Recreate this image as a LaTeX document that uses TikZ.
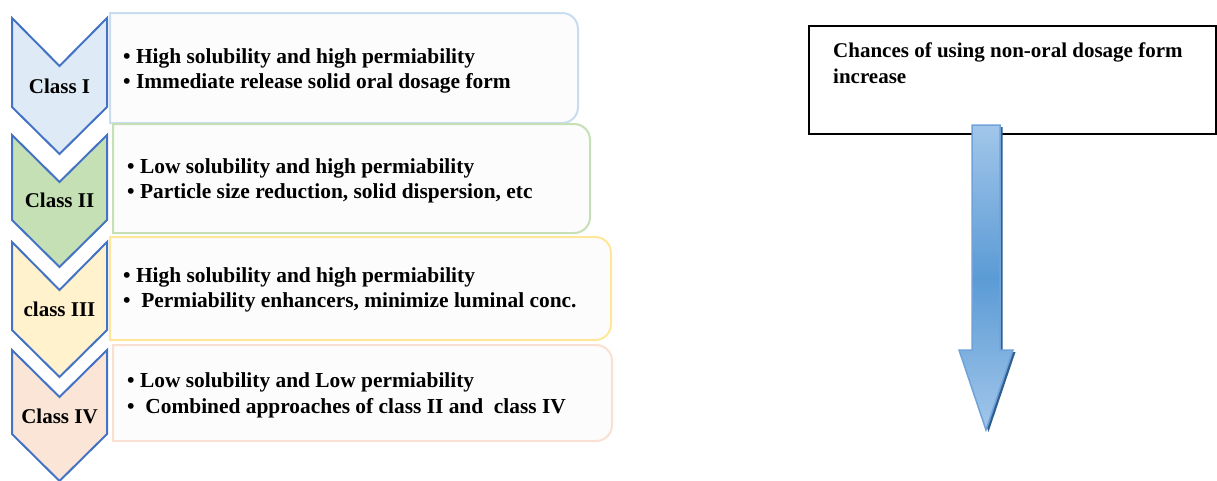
\documentclass[tikz,border=0pt]{standalone}
\usepackage{fontspec}
\setmainfont{Liberation Serif}
\definecolor{chevline}{HTML}{4472C4}
\definecolor{fillI}{HTML}{DEEBF7}
\definecolor{fillII}{HTML}{C5E0B4}
\definecolor{fillIII}{HTML}{FFF2CC}
\definecolor{fillIV}{HTML}{FBE5D6}
\definecolor{edgeI}{HTML}{C9DDF2}
\definecolor{edgeII}{HTML}{C5E0B4}
\definecolor{edgeIII}{HTML}{FFE699}
\definecolor{edgeIV}{HTML}{FAE0D2}
\definecolor{boxfill}{HTML}{FCFCFC}
\definecolor{arrtop}{HTML}{A2C6EA}
\definecolor{arrmid}{HTML}{5B9BD5}
\definecolor{arredge}{HTML}{6FA3DA}
\definecolor{arrshadow}{HTML}{2F5F8F}
\newcommand{\sideroundbox}[5]{%
  \draw[#1] (#2,#3) -- ({#4-16},#3) .. controls ({#4-7},#3) and (#4,{#3+7}) .. (#4,{#3+16})
    -- (#4,{#5-16}) .. controls (#4,{#5-7}) and ({#4-7},#5) .. ({#4-16},#5) -- (#2,#5) -- cycle;}
\begin{document}
\begin{tikzpicture}[x=1pt,y=-1pt,
  chev/.style={draw=chevline, line width=2pt, line join=miter},
  sbox/.style={fill=boxfill, line width=2pt},
  boxtxt/.style={font=\fontsize{21.4}{25}\selectfont\bfseries, inner sep=0pt, anchor=base west},
  chevtxt/.style={font=\fontsize{21}{25}\selectfont\bfseries, inner sep=0pt, anchor=base},
  rtxt/.style={font=\fontsize{21}{26}\selectfont\bfseries, inner sep=0pt, anchor=base west}]
\useasboundingbox (0,0) rectangle (1217,480);
% boxes
\sideroundbox{sbox, draw=edgeI}{110}{13}{578}{123}
\sideroundbox{sbox, draw=edgeII}{113}{124}{590}{233}
\sideroundbox{sbox, draw=edgeIII}{110}{237}{611}{340}
\sideroundbox{sbox, draw=edgeIV}{113}{345}{612}{441}
% chevrons
\draw[chev, fill=fillI] (12,18) -- (59.5,66) -- (107,18) -- (107,107) -- (59.5,154) -- (12,107) -- cycle;
\draw[chev, fill=fillII] (12,135) -- (59.5,182) -- (107,135) -- (107,220) -- (59.5,267) -- (12,220) -- cycle;
\draw[chev, fill=fillIII] (12,242) -- (59.5,290) -- (107,242) -- (107,330) -- (59.5,377) -- (12,330) -- cycle;
\draw[chev, fill=fillIV] (12,350) -- (59.5,397) -- (107,350) -- (107,434) -- (59.5,481) -- (12,434) -- cycle;
% chevron labels
\node[chevtxt] (c1) at (59.5,93) {Class I};
\node[chevtxt] (c2) at (59.5,207) {Class II};
\node[chevtxt] (c3) at (59.5,316) {class III};
\node[chevtxt] (c4) at (59.5,423) {Class IV};
% box texts
\node[boxtxt] (t1a) at (123,63) {• High solubility and high permiability};
\node[boxtxt] (t1b) at (123,88) {• Immediate release solid oral dosage form};
\node[boxtxt] (t2a) at (127,173) {• Low solubility and high permiability};
\node[boxtxt] (t2b) at (127,198) {• Particle size reduction, solid dispersion, etc};
\node[boxtxt] (t3a) at (123,282) {• High solubility and high permiability};
\node[boxtxt] (t3b) at (123,307) {•\ \ Permiability enhancers, minimize luminal conc.};
\node[boxtxt] (t4a) at (127,387) {• Low solubility and Low permiability};
\node[boxtxt] (t4b) at (127,413) {•\ \ Combined approaches of class II and\ \ class IV};
% right box
\node[draw, line width=2pt, minimum width=407pt, minimum height=108pt, inner sep=0pt, anchor=north west] (rbox) at (808,25) {};
\node[rtxt] (r1) at (833,57) {Chances of using non-oral dosage form};
\node[rtxt] (r2) at (833,83) {increase};
% arrow
\fill[arrshadow] (974.5,127) -- (1002.5,127) -- (1002.5,352) -- (1015.5,352) -- (988.5,432) -- (961.5,352) -- (974.5,352) -- cycle;
\path[draw=arredge, line width=1.5pt, top color=arrtop, bottom color=arrtop, middle color=arrmid]
  (972,125) -- (1000,125) -- (1000,350) -- (1013,350) -- (986,430) -- (959,350) -- (972,350) -- cycle;
\end{tikzpicture}
\end{document}
